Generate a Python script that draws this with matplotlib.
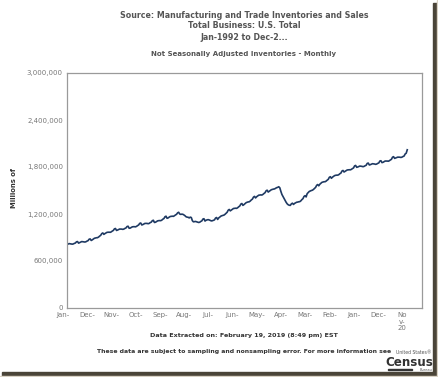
# Inventarios de negocios (sin ajuste estacional), ene-1992 a dic-2018
import matplotlib.pyplot as plt
from matplotlib.patches import Rectangle
from matplotlib.transforms import ScaledTranslation

# miles de millones de dolares por mes, un renglon por anio (1992..2018)
inv_1992 = [810, 816, 822, 820, 818, 815, 818, 825, 830, 845, 848, 828]
inv_1993 = [835, 842, 848, 846, 845, 842, 846, 854, 860, 878, 882, 862]
inv_1994 = [870, 880, 890, 894, 897, 898, 906, 918, 928, 950, 958, 940]
inv_1995 = [950, 958, 966, 967, 968, 966, 972, 982, 990, 1010, 1015, 990]
inv_1996 = [995, 1002, 1008, 1008, 1007, 1004, 1008, 1016, 1022, 1040, 1044, 1018]
inv_1997 = [1020, 1028, 1036, 1038, 1038, 1036, 1042, 1052, 1060, 1080, 1085, 1060]
inv_1998 = [1065, 1072, 1080, 1080, 1080, 1076, 1080, 1090, 1096, 1115, 1120, 1092]
inv_1999 = [1095, 1104, 1112, 1115, 1116, 1115, 1122, 1134, 1142, 1165, 1172, 1145]
inv_2000 = [1150, 1160, 1168, 1170, 1172, 1170, 1178, 1188, 1196, 1215, 1222, 1200]
inv_2001 = [1195, 1198, 1196, 1188, 1178, 1165, 1160, 1158, 1150, 1160, 1155, 1115]
inv_2002 = [1100, 1102, 1105, 1100, 1096, 1092, 1095, 1105, 1112, 1135, 1140, 1110]
inv_2003 = [1120, 1125, 1128, 1124, 1118, 1112, 1114, 1120, 1125, 1148, 1155, 1130]
inv_2004 = [1150, 1160, 1172, 1178, 1182, 1186, 1196, 1210, 1222, 1248, 1258, 1240]
inv_2005 = [1250, 1260, 1270, 1272, 1274, 1272, 1280, 1292, 1302, 1326, 1334, 1310]
inv_2006 = [1320, 1332, 1344, 1350, 1354, 1356, 1366, 1380, 1390, 1415, 1425, 1405]
inv_2007 = [1420, 1430, 1440, 1442, 1444, 1442, 1450, 1462, 1472, 1496, 1504, 1480]
inv_2008 = [1490, 1500, 1510, 1514, 1518, 1520, 1528, 1536, 1540, 1548, 1535, 1490]
inv_2009 = [1450, 1425, 1400, 1375, 1350, 1330, 1318, 1312, 1310, 1330, 1338, 1322]
inv_2010 = [1335, 1342, 1350, 1352, 1356, 1358, 1368, 1384, 1396, 1424, 1434, 1418]
inv_2011 = [1460, 1474, 1488, 1494, 1500, 1504, 1514, 1528, 1540, 1566, 1576, 1560]
inv_2012 = [1580, 1592, 1604, 1608, 1612, 1612, 1620, 1632, 1642, 1668, 1676, 1656]
inv_2013 = [1670, 1680, 1690, 1694, 1696, 1696, 1702, 1714, 1722, 1748, 1756, 1736]
inv_2014 = [1745, 1754, 1762, 1764, 1765, 1764, 1770, 1780, 1788, 1814, 1820, 1796]
inv_2015 = [1800, 1806, 1812, 1810, 1808, 1804, 1808, 1816, 1822, 1846, 1850, 1826]
inv_2016 = [1830, 1836, 1842, 1840, 1838, 1834, 1838, 1846, 1852, 1876, 1880, 1856]
inv_2017 = [1860, 1868, 1876, 1876, 1876, 1874, 1880, 1890, 1898, 1925, 1932, 1910]
inv_2018 = [1915, 1920, 1926, 1926, 1925, 1922, 1926, 1934, 1940, 1966, 1976, 2020]

anios = [inv_1992, inv_1993, inv_1994, inv_1995, inv_1996, inv_1997, inv_1998,
         inv_1999, inv_2000, inv_2001, inv_2002, inv_2003, inv_2004, inv_2005,
         inv_2006, inv_2007, inv_2008, inv_2009, inv_2010, inv_2011, inv_2012,
         inv_2013, inv_2014, inv_2015, inv_2016, inv_2017, inv_2018]

valores = []
for a in anios:
    for v in a:
        valores.append(v * 1000)
meses = list(range(len(valores)))

y_ticks = [0, 600000, 1200000, 1800000, 2400000, 3000000]
y_labels = ["0", "600,000", "1,200,000", "1,800,000", "2,400,000", "3,000,000"]
x_ticks = list(range(0, 323, 23))
x_labels = ["Jan-", "Dec-", "Nov-", "Oct-", "Sep-", "Aug-", "Jul-", "Jun-",
            "May-", "Apr-", "Mar-", "Feb-", "Jan-", "Dec-", "No\nv-\n20"]

W, H = 439, 377
fig = plt.figure(figsize=(W / 100, H / 100), dpi=100)
fig.patch.set_facecolor("white")

ax = fig.add_axes([67 / W, 1 - 308 / H, 355 / W, 235 / H])
ax.plot(meses, valores, color="#1f3a63", linewidth=1.2)
ax.set_xlim(0, 337)
ax.set_ylim(0, 3000000)
ax.set_yticks(y_ticks)
ax.set_yticklabels(y_labels)
ax.set_xticks(x_ticks)
ax.set_xticklabels(x_labels, linespacing=1.1)
ax.tick_params(length=0, labelsize=5.0, labelcolor="#777777", pad=3)
ax.tick_params(axis="y", pad=3)
for s in ax.spines.values():
    s.set_color("#9a9a9a")
    s.set_linewidth(0.9)

# las etiquetas del eje x van un poco corridas a la izquierda
corr = ScaledTranslation(-4 / 100, 0, fig.dpi_scale_trans)
for lab in ax.get_xticklabels():
    lab.set_transform(lab.get_transform() + corr)
    lab.set_verticalalignment("top")

# textos
gris = "#555555"
fig.text(244 / W, 1 - 15 / H, "Source: Manufacturing and Trade Inventories and Sales",
         ha="center", va="center", fontsize=5.7, fontweight="bold", color=gris)
fig.text(244 / W, 1 - 26 / H, "Total Business: U.S. Total",
         ha="center", va="center", fontsize=5.7, fontweight="bold", color=gris)
fig.text(244 / W, 1 - 37 / H, "Jan-1992 to Dec-2...",
         ha="center", va="center", fontsize=5.7, fontweight="bold", color=gris)
fig.text(244 / W, 1 - 54 / H, "Not Seasonally Adjusted Inventories - Monthly",
         ha="center", va="center", fontsize=5.0, fontweight="bold", color=gris)
fig.text(14 / W, 1 - 188 / H, "Millions of", rotation=90,
         ha="center", va="center", fontsize=4.9, fontweight="bold", color="#333333")
fig.text(244 / W, 1 - 336 / H, "Data Extracted on: February 19, 2019 (8:49 pm) EST",
         ha="center", va="center", fontsize=4.6, fontweight="bold", color="#333333")
fig.text(244 / W, 1 - 351 / H,
         "These data are subject to sampling and nonsampling error. For more information see",
         ha="center", va="center", fontsize=4.4, fontweight="bold", color="#333333")

# logo
fig.text(432 / W, 1 - 353 / H, "United States\u00ae", ha="right", va="center",
         fontsize=3.3, color="#555555")
fig.text(433 / W, 1 - 362 / H, "Census", ha="right", va="center",
         fontsize=8.6, fontweight="bold", color="#333333")
fig.text(433 / W, 1 - 370 / H, "Bureau", ha="right", va="center",
         fontsize=2.6, color="#555555")
fig.add_artist(Rectangle((388 / W, 1 - 370 / H), 24 / W, 1.2 / H,
                         transform=fig.transFigure, color="#333333"))

# sombra del marco
fig.add_artist(Rectangle((433 / W, 0), 4 / W, 1 - 3 / H,
                         transform=fig.transFigure, color="#4a4438"))
fig.add_artist(Rectangle((2 / W, 1 / H), 435 / W, 4 / H,
                         transform=fig.transFigure, color="#4a4438"))
fig.add_artist(Rectangle((437 / W, 0), 2 / W, 1,
                         transform=fig.transFigure, color="#d9d2c4"))
fig.add_artist(Rectangle((0, 0), 1, 1 / H,
                         transform=fig.transFigure, color="#d9d2c4"))

plt.savefig("out.png", dpi=100)
